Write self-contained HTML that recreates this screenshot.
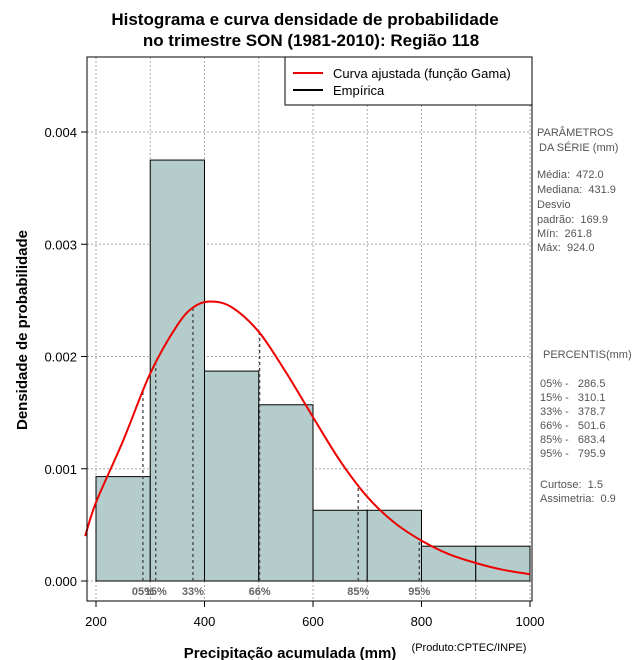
<!DOCTYPE html>
<html><head><meta charset="utf-8"><style>
body{margin:0;background:#fff;}
svg{display:block;font-family:"Liberation Sans",sans-serif;}
text{white-space:pre;}
</style></head><body>
<svg id="c" width="640" height="660" xmlns="http://www.w3.org/2000/svg">
<text x="305" y="25" text-anchor="middle" font-size="17" font-weight="bold">Histograma e curva densidade de probabilidade</text>
<text x="311" y="46" text-anchor="middle" font-size="17" font-weight="bold">no trimestre SON (1981-2010): Região 118</text>
<g id="grid"></g>
<g id="bars"></g>
<g id="pct"></g>
<path id="curve" fill="none" stroke="#ee0000" stroke-width="2"/>
<rect x="87" y="57" width="445" height="544" fill="none" stroke="#000" stroke-width="1"/>
<g id="axes"></g>
<text x="290" y="658" text-anchor="middle" font-size="15" font-weight="bold">Precipitação acumulada (mm)</text>
<text x="469" y="651" text-anchor="middle" font-size="11">(Produto:CPTEC/INPE)</text>
<text transform="translate(27,330) rotate(-90)" text-anchor="middle" font-size="15" font-weight="bold">Densidade de probabilidade</text>
<g>
<rect x="285" y="57" width="247" height="48" fill="#fff" stroke="#000"/>
<line x1="293" y1="73" x2="323" y2="73" stroke="#ee0000" stroke-width="2"/>
<text x="333" y="78" font-size="13">Curva ajustada (função Gama)</text>
<line x1="293" y1="90" x2="323" y2="90" stroke="#000" stroke-width="2"/>
<text x="333" y="95" font-size="13">Empírica</text>
</g>
<g font-size="11" fill="#555">
<text x="537" y="136">PARÂMETROS</text>
<text x="539" y="151">DA SÉRIE (mm)</text>
<text x="537" y="178">Média:  472.0</text>
<text x="537" y="193">Mediana:  431.9</text>
<text x="537" y="208">Desvio</text>
<text x="537" y="223">padrão:  169.9</text>
<text x="537" y="237">Mín:  261.8</text>
<text x="537" y="251">Máx:  924.0</text>
<text x="543" y="358">PERCENTIS(mm)</text>
<text x="540" y="387">05% -   286.5</text>
<text x="540" y="401">15% -   310.1</text>
<text x="540" y="415">33% -   378.7</text>
<text x="540" y="429">66% -   501.6</text>
<text x="540" y="443">85% -   683.4</text>
<text x="540" y="457">95% -   795.9</text>
<text x="540" y="488">Curtose:  1.5</text>
<text x="540" y="502">Assimetria:  0.9</text>
</g>
</svg>
<script>
const binStarts=[200,300,400,500,600,700,800,900];
const binWidth=100;
const densities=[0.00093,0.00375,0.00187,0.00157,0.00063,0.00063,0.00031,0.00031];
const curveX=[180,200,250,300,350,380,410,450,500,550,600,650,700,750,800,850,900,950,1000];
const curveY=[0.00040,0.00070,0.00125,0.00185,0.00228,0.00244,0.00249,0.00244,0.00222,0.00186,0.00146,0.00107,0.00075,0.00052,0.00036,0.00024,0.00016,0.00010,0.00006];
const pctLabels=["05%","15%","33%","66%","85%","95%"];
const pctValues=[286.5,310.1,378.7,501.6,683.4,795.9];
const xTicks=[200,400,600,800,1000];
const yTicks=[0,0.001,0.002,0.003,0.004];
const yTickLabels=["0.000","0.001","0.002","0.003","0.004"];
const gridX=[200,300,400,500,600,700,800,900,1000];

const NS="http://www.w3.org/2000/svg";
const X=v=>96+(v-200)*434/800;
const Y=v=>581-v*112250;
function mk(tag,attrs,parent){const e=document.createElementNS(NS,tag);for(const k in attrs)e.setAttribute(k,attrs[k]);parent.appendChild(e);return e;}
const grid=document.getElementById('grid');
gridX.forEach(v=>{const l=mk('line',{x1:X(v),x2:X(v),y1:57,y2:601,stroke:'#aaa','stroke-dasharray':'2,2'},grid);

});
yTicks.forEach(v=>{const l=mk('line',{x1:87,x2:532,y1:Y(v),y2:Y(v),stroke:'#aaa','stroke-dasharray':'2,2'},grid);

});
const bars=document.getElementById('bars');
binStarts.forEach((b,i)=>{const r=mk('rect',{x:X(b),y:Y(densities[i]),width:X(b+binWidth)-X(b),height:Y(0)-Y(densities[i]),fill:'#b4cccc',stroke:'#000','stroke-width':1},bars);

});
function interp(x){for(let i=0;i<curveX.length-1;i++){if(x>=curveX[i]&&x<=curveX[i+1]){const t=(x-curveX[i])/(curveX[i+1]-curveX[i]);return curveY[i]+t*(curveY[i+1]-curveY[i]);}}return 0;}
// smooth Catmull-Rom path through points
const P=curveX.map((x,i)=>[X(x),Y(curveY[i])]);
let d="M"+P[0][0].toFixed(1)+","+P[0][1].toFixed(1);
for(let i=0;i<P.length-1;i++){const p0=P[Math.max(0,i-1)],p1=P[i],p2=P[i+1],p3=P[Math.min(P.length-1,i+2)];
const c1=[p1[0]+(p2[0]-p0[0])/6,p1[1]+(p2[1]-p0[1])/6],c2=[p2[0]-(p3[0]-p1[0])/6,p2[1]-(p3[1]-p1[1])/6];
d+="C"+c1.map(v=>v.toFixed(1)).join(",")+" "+c2.map(v=>v.toFixed(1)).join(",")+" "+p2.map(v=>v.toFixed(1)).join(",");}
document.getElementById('curve').setAttribute('d',d);
const pct=document.getElementById('pct');
pctValues.forEach((v,i)=>{const l=mk('line',{x1:X(v),x2:X(v),y1:Y(0),y2:Y(interp(v)),stroke:'#444','stroke-width':1.3,'stroke-dasharray':'3,3'},pct);


const t=mk('text',{x:X(v),y:595,'text-anchor':'middle','font-size':11,'font-weight':'bold',fill:'#666'},pct);t.textContent=pctLabels[i];

});
const axes=document.getElementById('axes');
xTicks.forEach(v=>{mk('line',{x1:X(v),x2:X(v),y1:601,y2:607,stroke:'#000'},axes);
const t=mk('text',{x:X(v),y:626,'text-anchor':'middle','font-size':13},axes);t.textContent=v;

});
yTicks.forEach((v,i)=>{mk('line',{x1:81,x2:87,y1:Y(v),y2:Y(v),stroke:'#000'},axes);
const t=mk('text',{x:77,y:Y(v)+5,'text-anchor':'end','font-size':13},axes);t.textContent=yTickLabels[i];

});
</script>
</body></html>
